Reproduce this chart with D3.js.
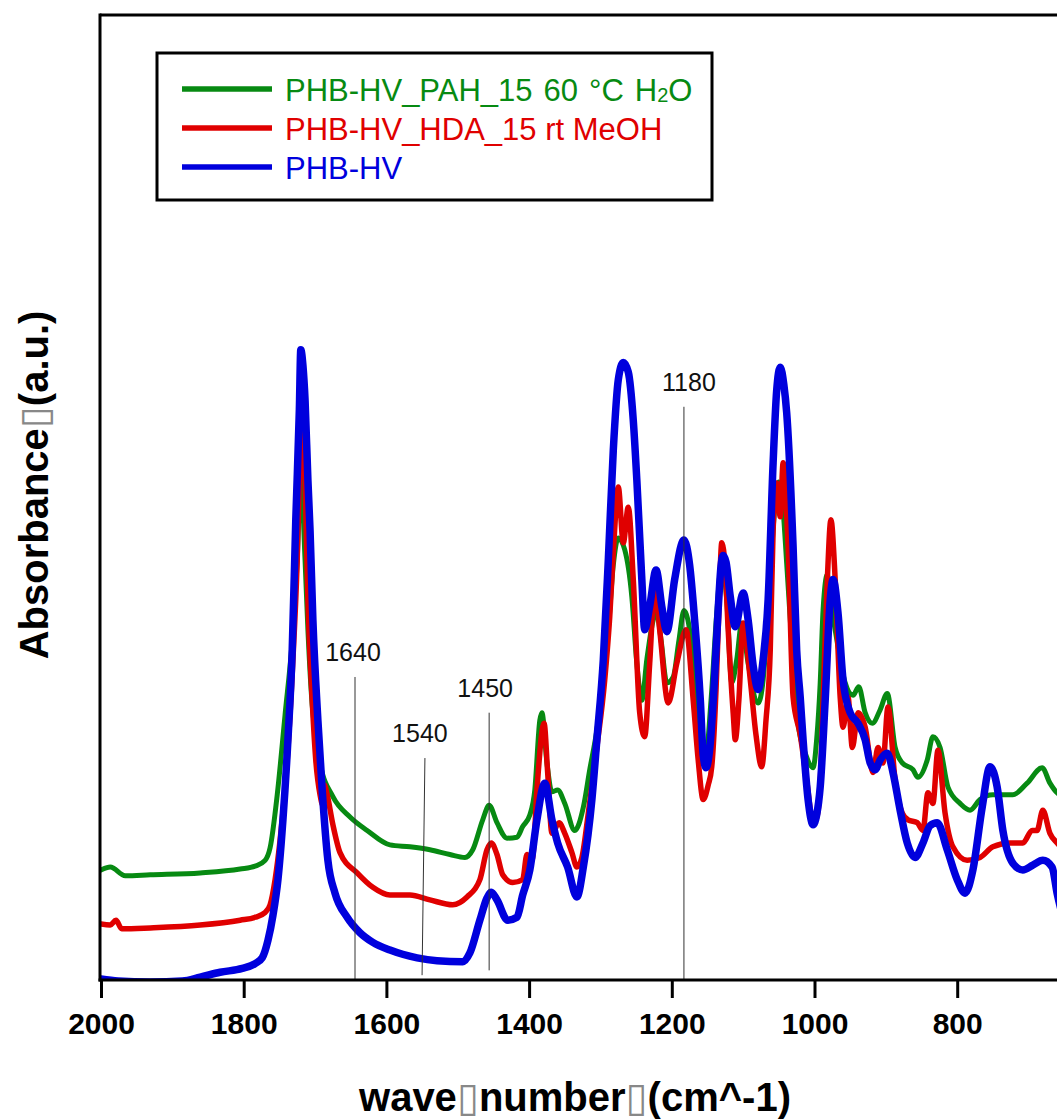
<!DOCTYPE html>
<html><head><meta charset="utf-8">
<script src="https://cdn.jsdelivr.net/npm/d3@7"></script>
<style>body{margin:0;background:#fff}svg{display:block}</style>
</head><body>
<svg id="c" width="1057" height="1120"></svg>
<script>
// ---------- data ----------
const seriesNames = ["PHB-HV_PAH_15 60 °C H2O", "PHB-HV_HDA_15 rt MeOH", "PHB-HV"];
const seriesColors = ["#078a12", "#e00000", "#0000dd"];
const xTicks = [2000, 1800, 1600, 1400, 1200, 1000, 800];

const pahH2O = [[2000,11.4],[1987,11.7],[1966,10.8],[1931,10.9],[1861,11.1],[1805,11.5],[1784,11.8],[1770,12.4],[1763,13.7],[1753,19.2],[1742,27.5],[1732,35.2],[1725,43.5],[1720,52.3],[1714,43.5],[1710,36.3],[1704,28.5],[1699,25.4],[1693,22.5],[1675,19.0],[1651,16.9],[1627,15.5],[1595,14.0],[1567,13.8],[1539,13.5],[1511,13.0],[1490,12.7],[1479,13.5],[1465,16.6],[1456,18.1],[1445,16.3],[1431,14.7],[1417,14.8],[1409,15.9],[1399,17.1],[1392,19.7],[1385,26.9],[1382,27.7],[1375,22.5],[1368,19.5],[1360,19.7],[1350,18.3],[1336,15.5],[1324,17.9],[1315,21.8],[1305,25.9],[1296,31.1],[1289,36.3],[1282,43.0],[1275,45.8],[1266,44.6],[1256,39.7],[1249,32.8],[1242,29.0],[1235,33.2],[1226,37.3],[1221,38.1],[1215,35.2],[1207,30.8],[1198,31.4],[1190,35.2],[1183,38.3],[1172,34.5],[1163,25.9],[1153,22.8],[1145,29.0],[1137,38.0],[1130,43.2],[1123,39.4],[1116,30.8],[1109,33.2],[1102,37.0],[1093,32.8],[1079,28.7],[1072,31.1],[1067,36.0],[1060,44.6],[1053,50.8],[1050,51.6],[1044,48.7],[1039,43.2],[1030,32.8],[1025,27.7],[1011,23.1],[1002,22.0],[997,24.9],[992,30.8],[988,38.3],[982,42.0],[978,39.7],[967,34.5],[957,30.8],[946,29.5],[938,30.4],[929,27.7],[919,26.6],[908,28.0],[898,29.7],[887,24.1],[877,22.5],[862,21.8],[855,21.0],[842,22.8],[834,25.2],[824,24.1],[813,20.0],[796,18.3],[782,17.6],[768,18.7],[750,19.2],[722,19.2],[702,20.4],[681,22.0],[670,20.4],[660,19.4],[650,19.0]];

const hdaMeOH = [[2000,5.8],[1987,5.7],[1979,6.2],[1971,5.3],[1931,5.4],[1861,5.7],[1805,6.2],[1784,6.5],[1770,7.0],[1763,7.8],[1756,10.4],[1749,14.5],[1739,22.8],[1731,33.2],[1725,43.5],[1721,54.9],[1718,58.0],[1714,51.8],[1710,39.4],[1704,29.0],[1699,22.8],[1693,19.2],[1689,18.1],[1687,20.2],[1683,19.2],[1675,16.1],[1665,13.2],[1641,11.1],[1619,9.6],[1595,8.8],[1567,8.8],[1539,8.3],[1507,7.8],[1487,8.6],[1469,10.4],[1459,13.5],[1453,14.2],[1445,13.0],[1437,10.9],[1423,10.1],[1409,10.4],[1403,13.0],[1399,12.4],[1395,12.6],[1389,19.7],[1379,26.6],[1374,21.5],[1368,15.2],[1358,16.3],[1350,15.2],[1340,13.2],[1333,11.7],[1326,12.7],[1317,17.3],[1305,24.1],[1294,31.1],[1287,37.6],[1281,45.6],[1275,51.1],[1268,45.3],[1261,49.0],[1254,41.5],[1245,27.7],[1238,25.2],[1231,32.8],[1224,40.7],[1217,36.3],[1205,28.7],[1193,32.8],[1180,36.3],[1170,29.0],[1163,22.8],[1156,18.7],[1149,20.2],[1144,22.1],[1138,30.1],[1134,38.3],[1130,45.3],[1125,42.5],[1121,36.3],[1114,27.7],[1111,24.9],[1106,29.0],[1100,37.0],[1090,31.1],[1082,25.4],[1074,22.1],[1068,26.9],[1062,34.2],[1058,46.6],[1053,51.5],[1048,48.0],[1044,53.6],[1037,44.9],[1030,29.3],[1020,25.4],[1011,20.7],[1002,16.4],[997,16.8],[992,20.4],[987,31.1],[982,41.5],[977,47.7],[971,41.5],[964,29.3],[960,26.2],[953,29.3],[947,24.1],[939,27.7],[929,26.2],[918,21.5],[911,24.1],[904,22.5],[897,28.3],[887,20.7],[877,17.3],[869,16.6],[856,16.3],[848,15.5],[841,19.4],[834,18.3],[827,23.8],[817,17.3],[806,13.8],[786,12.4],[768,12.7],[750,13.8],[726,14.2],[708,14.2],[695,15.5],[688,15.5],[680,17.6],[670,15.2],[660,14.2],[650,13.5]];

const phbhv = [[2000,0.1],[1976,-0.1],[1931,-0.2],[1886,-0.1],[1861,0.3],[1833,0.8],[1802,1.2],[1784,1.7],[1774,2.3],[1766,4.1],[1759,6.7],[1752,10.4],[1745,16.6],[1738,24.9],[1732,34.2],[1727,47.7],[1722,59.1],[1720,65.3],[1717,63.7],[1714,60.1],[1710,51.8],[1707,46.6],[1703,37.3],[1696,26.9],[1690,19.7],[1682,12.4],[1672,9.0],[1655,6.5],[1637,4.9],[1619,3.9],[1595,3.1],[1557,2.3],[1529,2.0],[1493,1.9],[1483,2.8],[1469,6.2],[1459,8.5],[1453,9.1],[1445,8.3],[1430,6.2],[1417,6.5],[1409,8.8],[1399,11.4],[1389,16.6],[1378,20.4],[1368,16.6],[1360,14.2],[1346,11.7],[1333,8.6],[1324,11.7],[1312,18.7],[1305,24.9],[1296,33.2],[1289,43.5],[1282,54.9],[1275,62.2],[1268,64.0],[1261,63.0],[1254,58.0],[1249,51.8],[1242,41.5],[1238,36.3],[1231,38.7],[1222,42.5],[1214,38.7],[1207,36.1],[1196,41.5],[1183,45.6],[1175,43.0],[1168,37.3],[1160,29.0],[1156,23.3],[1152,22.0],[1146,24.6],[1141,30.1],[1135,38.4],[1131,42.9],[1128,44.0],[1124,43.3],[1118,39.7],[1111,36.6],[1100,40.1],[1093,37.3],[1086,32.6],[1079,30.1],[1072,33.2],[1065,39.4],[1058,53.6],[1053,61.1],[1048,63.5],[1043,61.7],[1039,58.8],[1030,44.9],[1025,34.2],[1020,29.3],[1016,24.9],[1009,18.7],[1002,16.1],[997,17.1],[992,20.0],[985,29.0],[978,39.4],[974,41.5],[967,38.0],[960,31.1],[950,27.7],[939,26.6],[929,24.9],[922,22.5],[915,21.8],[908,22.8],[898,23.5],[890,21.5],[880,17.6],[870,14.2],[859,12.7],[848,14.2],[838,16.0],[828,16.3],[814,13.5],[800,10.4],[789,9.0],[778,11.4],[765,17.9],[754,22.1],[744,20.0],[736,15.5],[722,12.1],[708,11.4],[694,11.9],[680,12.4],[667,11.7],[660,9.0],[650,6.0]];

const seriesData = [pahH2O, hdaMeOH, phbhv];

// peak annotations: label, wavenumber at top / bottom of marker, absorbance at top / bottom
const annoLabels = ["1640", "1540", "1450", "1180"];
const annoWnTop = [1644, 1546, 1456, 1183];
const annoWnBottom = [1644, 1550, 1456, 1183];
const annoTop = [31.4, 23.0, 27.7, 59.4];
const annoBottom = [0, 0.5, 1.0, 0];

// ---------- drawing ----------
const svg = d3.select("#c");
const FONT = "'Liberation Sans', Arial, Helvetica, sans-serif";
const plotLeft = 101, plotTop = 15, plotBottom = 980;
const x = d3.scaleLinear().domain([2000, 600]).range([plotLeft, plotLeft + 1400 * 0.7135]);
const y = d3.scaleLinear().domain([0, 100]).range([plotBottom, plotTop]);

svg.append("defs").append("clipPath").attr("id", "plot")
  .append("rect").attr("x", plotLeft).attr("y", plotTop).attr("width", 1100).attr("height", plotBottom - plotTop);

const line = d3.line().x(d => x(d[0])).y(d => y(d[1])).curve(d3.curveMonotoneX);
const widths = [5, 5.5, 7.5];
const g = svg.append("g").attr("clip-path", "url(#plot)");
seriesData.forEach((s, i) => {
  g.append("path").datum(s).attr("d", line)
    .attr("fill", "none").attr("stroke", seriesColors[i])
    .attr("stroke-width", widths[i]).attr("stroke-linejoin", "round").attr("stroke-linecap", "round");
});

// annotation markers
const labelDx = [-2, -5, -4, 5];
annoLabels.forEach((lab, i) => {
  svg.append("line")
    .attr("x1", x(annoWnTop[i])).attr("y1", y(annoTop[i]))
    .attr("x2", x(annoWnBottom[i])).attr("y2", y(annoBottom[i]))
    .attr("stroke", "#333").attr("stroke-width", 1);
  svg.append("text").text(lab)
    .attr("x", x(annoWnTop[i]) + labelDx[i]).attr("y", y(annoTop[i]) - 16)
    .attr("text-anchor", "middle").attr("font-family", FONT).attr("font-size", 25)
    .attr("fill", "#111");
});

// frame
svg.append("line").attr("x1", 100).attr("x2", 1057).attr("y1", plotTop).attr("y2", plotTop)
  .attr("stroke", "#000").attr("stroke-width", 3);
svg.append("line").attr("x1", 100).attr("x2", 100).attr("y1", plotTop - 1.5).attr("y2", plotBottom + 1.5)
  .attr("stroke", "#000").attr("stroke-width", 3);

// x axis
const ax = svg.append("g").attr("transform", `translate(0,${plotBottom})`)
  .call(d3.axisBottom(x).tickValues(xTicks).tickFormat(d3.format("d")).tickSize(18).tickPadding(15));
ax.select(".domain").remove();
ax.selectAll(".tick line").attr("stroke", "#000").attr("stroke-width", 3);
ax.selectAll(".tick text").attr("font-family", FONT).attr("font-size", 30)
  .attr("font-weight", "bold").attr("fill", "#000");
svg.append("line").attr("x1", 98.5).attr("x2", 1057).attr("y1", plotBottom).attr("y2", plotBottom)
  .attr("stroke", "#000").attr("stroke-width", 3);

// axis titles
const xt = svg.append("text").attr("x", 575).attr("y", 1111).attr("text-anchor", "middle")
  .attr("font-family", FONT).attr("font-size", 40).attr("font-weight", "bold").attr("fill", "#000");
xt.append("tspan").text("wave");
xt.append("tspan").text("\u25AF").attr("font-family", "DejaVu Sans").attr("font-weight", "normal").attr("fill", "#888");
xt.append("tspan").text("number");
xt.append("tspan").text("\u25AF").attr("font-family", "DejaVu Sans").attr("font-weight", "normal").attr("fill", "#888");
xt.append("tspan").text("(cm^-1)");

const yt = svg.append("text").attr("transform", "translate(48,485) rotate(-90)").attr("text-anchor", "middle")
  .attr("font-family", FONT).attr("font-size", 40).attr("font-weight", "bold").attr("fill", "#000");
yt.append("tspan").text("Absorbance");
yt.append("tspan").text("\u25AF").attr("font-family", "DejaVu Sans").attr("font-weight", "normal").attr("fill", "#888");
yt.append("tspan").text("(a.u.)");

// legend
svg.append("rect").attr("x", 157).attr("y", 53).attr("width", 555).attr("height", 147)
  .attr("fill", "#fff").attr("stroke", "#000").attr("stroke-width", 3);
const legY = [89, 128, 167];
seriesNames.forEach((n, i) => {
  svg.append("line").attr("x1", 182).attr("x2", 272).attr("y1", legY[i]).attr("y2", legY[i])
    .attr("stroke", seriesColors[i]).attr("stroke-width", 5.5);
  const t = svg.append("text").attr("x", 285).attr("y", legY[i] + 12)
    .attr("font-family", FONT).attr("font-size", 31).attr("fill", seriesColors[i]);
  const m = n.match(/^(.*) (.*) (.*) H2(O)$/);
  if (m) {
    t.append("tspan").text(m[1]);
    t.append("tspan").text(m[2]).attr("dx", 11);
    t.append("tspan").text(m[3]).attr("dx", 11);
    t.append("tspan").text("H").attr("dx", 11);
    t.append("tspan").text("2").attr("font-size", 20).attr("dy", 1);
    t.append("tspan").text(m[4]).attr("dy", -1);
  } else {
    t.text(n);
  }
});
</script>
</body></html>
